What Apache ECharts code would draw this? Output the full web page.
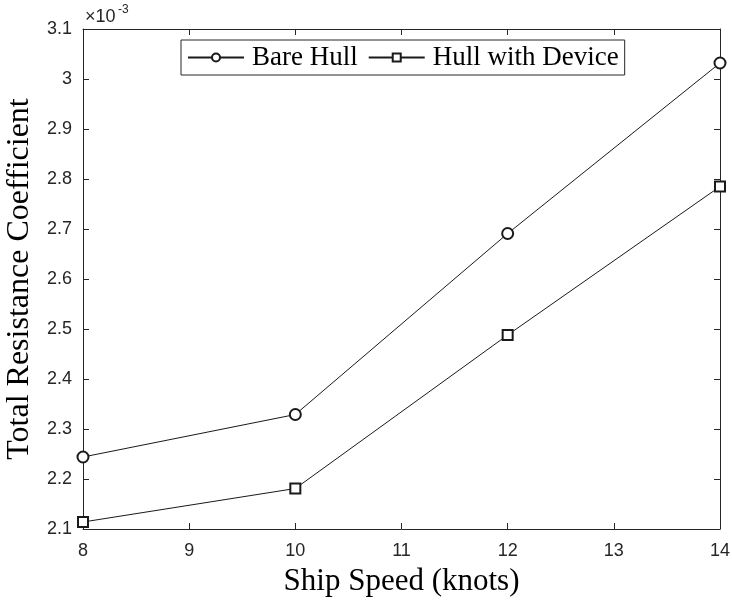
<!DOCTYPE html>
<html>
<head>
<meta charset="utf-8">
<script src="https://cdn.jsdelivr.net/npm/echarts@6/dist/echarts.min.js"></script>
<style>
html,body{margin:0;padding:0;background:#fff;}
#chart{width:732px;height:604px;}
</style>
</head>
<body>
<div id="chart"></div>
<script>
// Data (values in units of 10^-3)
var speeds = [8, 10, 12, 14];
var bareHull = [2.244, 2.329, 2.691, 3.032];
var hullWithDevice = [2.114, 2.181, 2.488, 2.785];
var seriesNames = ['Bare Hull', 'Hull with Device'];
var xTicks = [8, 9, 10, 11, 12, 13, 14];
var yTicks = [2.1, 2.2, 2.3, 2.4, 2.5, 2.6, 2.7, 2.8, 2.9, 3.0, 3.1];

var axisColor = '#262626';
var serif = '"Times New Roman", "Liberation Serif", serif';
var sans = 'Arial, "Liberation Sans", sans-serif';

function pairs(xs, ys) { return xs.map(function (x, i) { return [x, ys[i]]; }); }

var chart = echarts.init(document.getElementById('chart'), null, {renderer: 'canvas'});
var xMin = xTicks[0], xMax = xTicks[xTicks.length - 1];
var yMin = yTicks[0], yMax = yTicks[yTicks.length - 1];

var tickCommon = {show: true, inside: true, length: 6, lineStyle: {color: axisColor, width: 1}};
var lineCommon = {show: true, onZero: false, lineStyle: {color: axisColor, width: 1}};

chart.setOption({
  animation: false,
  backgroundColor: '#fff',
  grid: {left: 83, right: 12, top: 29, bottom: 75, containLabel: false, outerBoundsMode: 'none'},
  legend: {
    left: 181, top: 40,
    orient: 'horizontal',
    data: seriesNames,
    borderColor: axisColor, borderWidth: 1,
    padding: [4, 6, 4, 6],
    itemWidth: 56, itemHeight: 10, itemGap: 10,
    textStyle: {fontFamily: serif, fontSize: 27, color: '#000', padding: [0, 0, 0, 3]},
    backgroundColor: '#fff'
  },
  xAxis: [{
    type: 'value', min: xMin, max: xMax, interval: 1,
    name: 'Ship Speed (knots)', nameLocation: 'middle', nameGap: 37,
    nameTextStyle: {fontFamily: serif, fontSize: 31, color: '#000'},
    axisLine: lineCommon, axisTick: tickCommon,
    axisLabel: {margin: 13, fontFamily: sans, fontSize: 18, color: axisColor},
    splitLine: {show: false}
  }, {
    type: 'value', min: xMin, max: xMax, interval: 1, position: 'top',
    axisLine: lineCommon, axisTick: tickCommon,
    axisLabel: {show: false}, splitLine: {show: false}
  }],
  yAxis: [{
    type: 'value', min: yMin, max: yMax, interval: 0.1,
    name: 'Total Resistance Coefficient', nameLocation: 'middle', nameGap: 42, nameRotate: 90,
    nameTextStyle: {fontFamily: serif, fontSize: 32, color: '#000'},
    axisLine: lineCommon, axisTick: tickCommon,
    axisLabel: {margin: 11, fontFamily: sans, fontSize: 18, color: axisColor,
      formatter: function (v) { return String(+v.toFixed(1)); }},
    splitLine: {show: false}
  }, {
    type: 'value', min: yMin, max: yMax, interval: 0.1, position: 'right',
    axisLine: lineCommon, axisTick: tickCommon,
    axisLabel: {show: false}, splitLine: {show: false}
  }],
  graphic: [
    {type: 'text', left: 85, top: 8, style: {text: '×10', fontFamily: sans, fontSize: 18, fill: axisColor}},
    {type: 'text', left: 118, top: 4, style: {text: '-3', fontFamily: sans, fontSize: 12, fill: axisColor}}
  ],
  series: [{
    name: seriesNames[0], type: 'line', data: pairs(speeds, bareHull),
    symbol: 'emptyCircle', symbolSize: 11, showAllSymbol: true,
    lineStyle: {color: '#1a1a1a', width: 1},
    itemStyle: {color: '#1a1a1a', borderWidth: 1}
  }, {
    name: seriesNames[1], type: 'line', data: pairs(speeds, hullWithDevice),
    symbol: 'emptyRect', symbolSize: 10, showAllSymbol: true,
    lineStyle: {color: '#1a1a1a', width: 1},
    itemStyle: {color: '#1a1a1a', borderWidth: 1}
  }]
});
</script>
</body>
</html>
